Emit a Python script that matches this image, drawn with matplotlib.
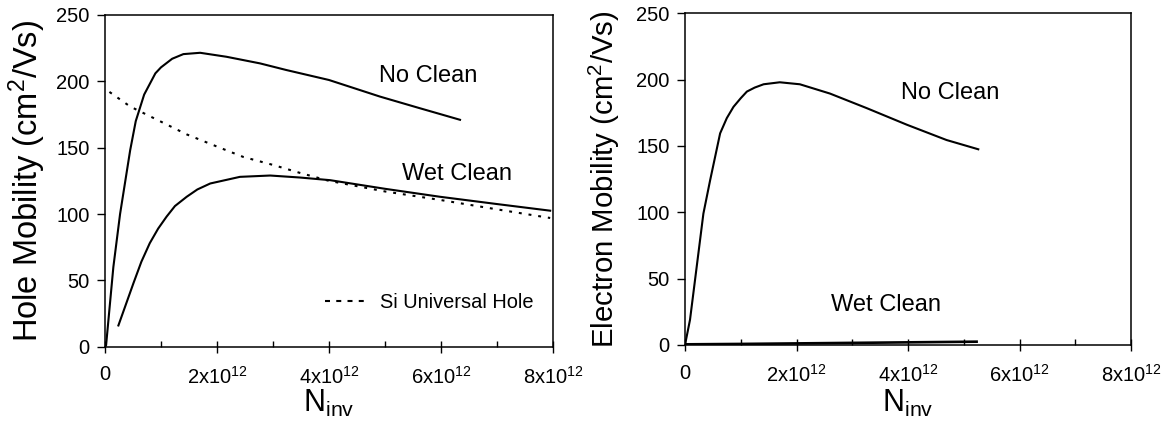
import matplotlib
matplotlib.use("Agg")
import matplotlib.pyplot as plt
from matplotlib.lines import Line2D
from matplotlib.ticker import FixedLocator, FuncFormatter

plt.rcParams["font.family"] = ["Liberation Sans", "DejaVu Sans"]
plt.rcParams["mathtext.fontset"] = "custom"
plt.rcParams["mathtext.rm"] = "Liberation Sans"
plt.rcParams["mathtext.it"] = "Liberation Sans:italic"

# hole mobility vs inversion charge (x in units of 1e12 cm^-2)
hole_noclean_x = [0.0, 0.02, 0.15, 0.27, 0.45, 0.55, 0.7, 0.9, 1.0, 1.2,
                  1.4, 1.7, 2.17, 2.77, 3.24, 4.0, 4.91, 5.6, 6.34]
hole_noclean_y = [0, 1, 60, 100, 148, 170, 190, 206, 210.5, 217,
                  220.5, 221.5, 218.5, 213.5, 208.5, 201, 188.5, 180, 171]
hole_wet_x = [0.24, 0.51, 0.65, 0.8, 0.95, 1.1, 1.25, 1.46, 1.65, 1.88,
              2.41, 2.95, 3.48, 4.02, 5.0, 5.98, 7.0, 7.95]
hole_wet_y = [16, 48, 64, 78, 89, 98, 106, 113, 118.5, 123,
              128, 129, 127.5, 125.5, 119, 113, 107.5, 102.5]
si_univ_x = [0.08, 0.45, 0.98, 1.46, 1.99, 2.47, 3.0, 3.48, 4.0, 5.0, 6.0,
             7.0, 7.95]
si_univ_y = [192, 181, 170, 160, 151, 143, 137, 131, 125, 117, 110.5,
             103.5, 97]

# electron mobility
elec_noclean_x = [0.0, 0.09, 0.21, 0.33, 0.45, 0.63, 0.75, 0.87, 1.0, 1.11,
                  1.25, 1.41, 1.7, 2.06, 2.6, 3.26, 3.98, 4.69, 5.26]
elec_noclean_y = [0, 19, 59, 99, 124, 159.5, 171, 179.5, 186, 191,
                  194, 196.5, 198, 196.5, 189.5, 178.5, 166, 154.5, 147.5]
elec_wet_x = [0.0, 1.0, 2.0, 3.0, 4.0, 5.23]
elec_wet_y = [0.5, 0.8, 1.2, 1.6, 2.0, 2.5]

x_major = [0, 2, 4, 6, 8]
x_minor = [1, 3, 5, 7]
y_ticks = [0, 50, 100, 150, 200, 250]


def xfmt(v, _):
    if v == 0:
        return "0"
    return r"$\mathregular{%dx10^{12}}$" % round(v)


def style_axes(ax, ylabel, ysize, ylab_x, xlab_y):
    ax.set_xlim(0, 8)
    ax.set_ylim(0, 250)
    ax.xaxis.set_major_locator(FixedLocator(x_major))
    ax.xaxis.set_minor_locator(FixedLocator(x_minor))
    ax.xaxis.set_major_formatter(FuncFormatter(xfmt))
    ax.set_yticks(y_ticks)
    ax.tick_params(axis="x", which="major", direction="inout", length=9,
                   width=1.0, labelsize=14.5, pad=9)
    ax.tick_params(axis="x", which="minor", direction="in", length=4, width=1.0)
    ax.tick_params(axis="y", direction="out", length=6, width=1.0,
                   labelsize=14.5, pad=5)
    for s in ax.spines.values():
        s.set_linewidth(1.1)
    ax.set_xlabel(r"$\mathregular{N_{inv}}$", fontsize=22)
    ax.set_ylabel(ylabel, fontsize=ysize)
    ax.yaxis.set_label_coords(ylab_x, 0.5)
    ax.xaxis.set_label_coords(0.5, xlab_y)


fig = plt.figure(figsize=(11.61, 4.23), dpi=100)
ax1 = fig.add_axes([0.0904, 0.1804, 0.3859, 0.7842])
ax2 = fig.add_axes([0.590, 0.1844, 0.3842, 0.7842])

lw = 1.5
dots = (0, (1.4, 3.3))
ax1.plot(hole_noclean_x, hole_noclean_y, color="black", lw=lw)
ax1.plot(hole_wet_x, hole_wet_y, color="black", lw=lw)
ax1.plot(si_univ_x, si_univ_y, color="black", lw=lw, ls=dots,
         dash_capstyle="butt")
ax1.text(5.77, 204, "No Clean", fontsize=17, ha="center", va="center")
ax1.text(6.29, 130.5, "Wet Clean", fontsize=17, ha="center", va="center")
key = Line2D([], [], color="black", lw=lw, ls=(0, (2.4, 3.0)))
ax1.legend([key], ["Si Universal Hole"], loc="center left",
           bbox_to_anchor=(0.491, 0.132), frameon=False, fontsize=14.4,
           handlelength=2.25, handletextpad=0.5, borderpad=0,
           borderaxespad=0)
style_axes(ax1, r"Hole Mobility (cm$\mathregular{^2}$/Vs)", 23.5, -0.127, -0.125)

ax2.plot(elec_noclean_x, elec_noclean_y, color="black", lw=lw)
ax2.plot(elec_wet_x, elec_wet_y, color="black", lw=1.9)
ax2.text(4.75, 190, "No Clean", fontsize=17, ha="center", va="center")
ax2.text(3.6, 30, "Wet Clean", fontsize=17, ha="center", va="center")
style_axes(ax2, r"Electron Mobility (cm$\mathregular{^2}$/Vs)", 21.2, -0.141, -0.13)

fig.savefig("out.png", dpi=100)
